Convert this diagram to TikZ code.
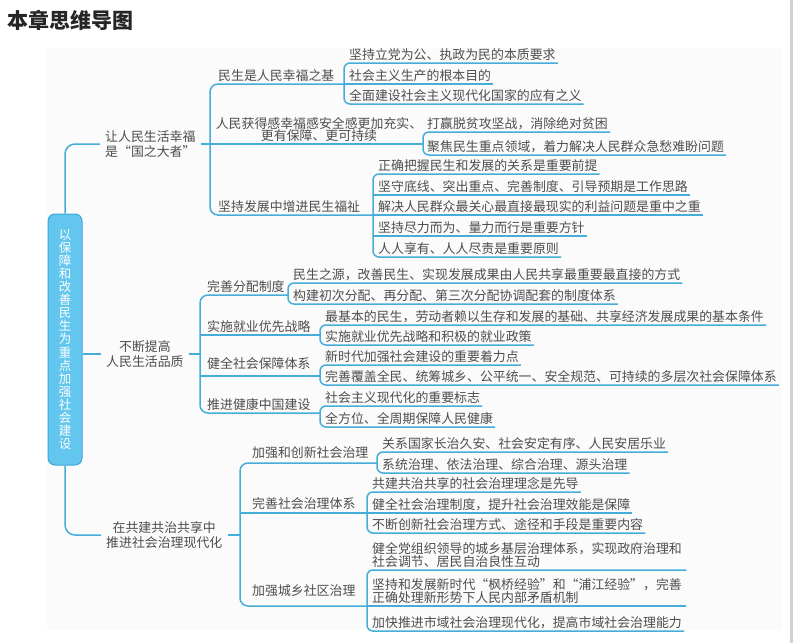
\documentclass[tikz,border=0pt]{standalone}
\usepackage{fontspec}
\setmainfont{Noto Sans CJK SC}
\definecolor{lc}{HTML}{45ADD9}
\definecolor{rootfill}{HTML}{62C6EF}
\definecolor{rootdraw}{HTML}{3DA7D7}
\definecolor{tc}{HTML}{4D4D4D}
\definecolor{titlec}{HTML}{262626}
\definecolor{panel}{HTML}{FBFBFB}
\definecolor{edgec}{HTML}{D2D2D2}
\newcommand{\lqm}{\makebox[1em][r]{“}}
\newcommand{\rqm}{\makebox[1em][l]{”}}
\newcommand{\fsz}{\fontsize{12.9}{13.6}\selectfont}
\begin{document}
\begin{tikzpicture}[x=1pt,y=-1pt,
  ln/.style={draw=lc, line width=1.5pt, rounded corners=6pt},
  leaf/.style={anchor=south west, inner xsep=2pt, inner ysep=1pt, text height=10pt, text depth=2pt, font=\fsz, text=tc},
  leaftwo/.style={anchor=south west, inner xsep=2pt, inner ysep=2pt, text width=312pt, align=left, font=\fontsize{12.9}{13.5}\selectfont, text=tc},
  lab/.style={anchor=south west, inner xsep=2pt, inner ysep=1pt, text height=10pt, text depth=2pt, font=\fsz, text=tc},
  lone/.style={anchor=west, inner xsep=5pt, inner ysep=2pt, font=\fontsize{12.9}{14.5}\selectfont, text=tc},
  root/.style={draw=rootdraw, fill=rootfill, line width=1pt, rounded corners=7pt, minimum width=34pt, minimum height=251pt, align=center, inner sep=0pt, text=white, font=\fontsize{12.5}{13.1}\selectfont}
]
\useasboundingbox (0,0) rectangle (793,643);
\fill[white] (0,0) rectangle (793,643);
\fill[panel] (47,48) rectangle (782,630);
\fill[edgec] (790,0) rectangle (793,643);

\node[anchor=west, inner sep=0pt, font=\fontsize{21}{21}\selectfont\bfseries, text=titlec] (title) at (7,20) {本章思维导图};

% root
\node[root] (root) at (65,339.5) {以\\保\\障\\和\\改\\善\\民\\生\\为\\重\\点\\加\\强\\社\\会\\建\\设};

% level 1
\node[lone, align=left] (b1) at (100,144) {让人民生活幸福\\是\lqm 国之大者\rqm};
\node[lone, align=center] (b2) at (101,354) {不断提高\\人民生活品质};
\node[lone, align=center] (b3) at (101,535) {在共建共治共享中\\推进社会治理现代化};

\draw[ln, rounded corners=10pt] (root.north) |- (b1.west);
\draw[ln] (root.east |- b2.west) -- (b2.west);
\draw[ln, rounded corners=10pt] (root.south) |- (b3.west);

% spine coordinates
\coordinate (sA) at (210,0);
\coordinate (sB) at (200,0);
\coordinate (sC) at (240,0);
\coordinate (xA1) at (344,0);
\coordinate (xA2) at (423,0);
\coordinate (xA3) at (373,0);
\coordinate (xB1) at (288,0);
\coordinate (xB2) at (320,0);
\coordinate (xC1) at (377,0);
\coordinate (xC2) at (367,0);

% ---------- branch A ----------
\node[lab] (l11) at (216,84) {民生是人民幸福之基};
\node[anchor=south, inner xsep=2pt, inner ysep=1pt, align=center, font=\fontsize{12.9}{12.6}\selectfont, text=tc] (l12) at (319,143) {人民获得感幸福感安全感更加充实、\\更有保障、更可持续};
\node[lab] (l13) at (216,215) {坚持发展中增进民生福祉};

\node[leaf] (a11) at (347,63) {坚持立党为公、执政为民的本质要求};
\node[leaf] (a12) at (347,84) {社会主义生产的根本目的};
\node[leaf] (a13) at (347,104) {全面建设社会主义现代化国家的应有之义};

\node[leaf] (a21) at (425,132) {打赢脱贫攻坚战，消除绝对贫困};
\node[leaf] (a22) at (425,155) {聚焦民生重点领域，着力解决人民群众急愁难盼问题};

\node[leaf] (a31) at (376,174) {正确把握民生和发展的关系是重要前提};
\node[leaf] (a32) at (376,195) {坚守底线、突出重点、完善制度、引导预期是工作思路};
\node[leaf] (a33) at (376,215) {解决人民群众最关心最直接最现实的利益问题是重中之重};
\node[leaf] (a34) at (376,236) {坚持尽力而为、量力而行是重要方针};
\node[leaf] (a35) at (376,257) {人人享有、人人尽责是重要原则};

\draw[ln, rounded corners=8pt] (xA1 |- a12.south) -- (sA |- a12.south) -- (sA |- a33.south) -- (xA3 |- a33.south);
\draw[ln] (b1.east) -- (xA2 |- b1.east);

\draw[ln] (a11.south east) -- (xA1 |- a11.south) -- (xA1 |- a13.south) -- (a13.south east);
\draw[ln] (xA1 |- a12.south) -- (a12.south east);

\draw[ln] (a21.south east) -- (xA2 |- a21.south) -- (xA2 |- a22.south) -- (a22.south east);

\draw[ln] (a31.south east) -- (xA3 |- a31.south) -- (xA3 |- a35.south) -- (a35.south east);
\draw[ln] (xA3 |- a32.south) -- (a32.south east);
\draw[ln] (xA3 |- a33.south) -- (a33.south east);
\draw[ln] (xA3 |- a34.south) -- (a34.south east);

% ---------- branch B ----------
\coordinate (jB1) at (288,295);
\coordinate (jB2) at (320,335);
\coordinate (jB3) at (320,376);
\coordinate (jB4) at (320,413);

\node[lab] (l21) at (205,295) {完善分配制度};
\node[lab] (l22) at (205,335) {实施就业优先战略};
\node[lab] (l23) at (205,372) {健全社会保障体系};
\node[lab] (l24) at (205,413) {推进健康中国建设};

\node[leaf] (p11) at (291,283) {民生之源，改善民生、实现发展成果由人民共享最重要最直接的方式};
\node[leaf] (p12) at (291,304) {构建初次分配、再分配、第三次分配协调配套的制度体系};
\node[leaf] (p21) at (323,325) {最基本的民生，劳动者赖以生存和发展的基础、共享经济发展成果的基本条件};
\node[leaf] (p22) at (323,345) {实施就业优先战略和积极的就业政策};
\node[leaf] (p31) at (323,365) {新时代加强社会建设的重要着力点};
\node[leaf] (p32) at (323,385) {完善覆盖全民、统筹城乡、公平统一、安全规范、可持续的多层次社会保障体系};
\node[leaf] (p41) at (323,406) {社会主义现代化的重要标志};
\node[leaf] (p42) at (323,427) {全方位、全周期保障人民健康};

\draw[ln] (b2.east) -- (sB |- b2.east);
\draw[ln, rounded corners=8pt] (jB1) -- (sB |- jB1) -- (sB |- jB4) -- (jB4);
\draw[ln] (sB |- jB2) -- (jB2);
\draw[ln] (sB |- jB3) -- (jB3);

\draw[ln] (p11.south east) -- (xB1 |- p11.south) -- (xB1 |- p12.south) -- (p12.south east);
\draw[ln] (p21.south east) -- (xB2 |- p21.south) -- (xB2 |- p22.south) -- (p22.south east);
\draw[ln] (p31.south east) -- (xB2 |- p31.south) -- (xB2 |- p32.south) -- (p32.south east);
\draw[ln] (p41.south east) -- (xB2 |- p41.south) -- (xB2 |- p42.south) -- (p42.south east);

% ---------- branch C ----------
\coordinate (jC1) at (377,463);
\coordinate (jC2) at (367,513);
\coordinate (jC3) at (367,606);

\node[lab] (l31) at (250,461) {加强和创新社会治理};
\node[lab] (l32) at (250,512) {完善社会治理体系};
\node[lab] (l33) at (250,599) {加强城乡社区治理};

\node[leaf] (c11) at (380,452) {关系国家长治久安、社会安定有序、人民安居乐业};
\node[leaf] (c12) at (380,473) {系统治理、依法治理、综合治理、源头治理};
\node[leaf] (c21) at (370,492) {共建共治共享的社会治理理念是先导};
\node[leaf] (c22) at (370,513) {健全社会治理制度，提升社会治理效能是保障};
\node[leaf] (c23) at (370,533) {不断创新社会治理方式、途径和手段是重要内容};
\node[leaftwo] (c31) at (370,570) {健全党组织领导的城乡基层治理体系，实现政府治理和\\社会调节、居民自治良性互动};
\node[leaftwo] (c32) at (370,606) {坚持和发展新时代\lqm 枫桥经验\rqm 和\lqm 浦江经验\rqm ，完善\\正确处理新形势下人民内部矛盾机制};
\node[leaf] (c33) at (370,631) {加快推进市域社会治理现代化，提高市域社会治理能力};

\draw[ln] (b3.east) -- (sC |- b3.east);
\draw[ln, rounded corners=8pt] (jC1) -- (sC |- jC1) -- (sC |- jC3) -- (jC3);
\draw[ln] (sC |- jC2) -- (jC2);

\draw[ln] (c11.south east) -- (xC1 |- c11.south) -- (xC1 |- c12.south) -- (c12.south east);
\draw[ln] (c21.south east) -- (xC2 |- c21.south) -- (xC2 |- c23.south) -- (c23.south east);
\draw[ln] (xC2 |- c22.south) -- (c22.south east);
\draw[ln] (c31.south east) -- (xC2 |- c31.south) -- (xC2 |- c33.south) -- (c33.south east);
\draw[ln] (xC2 |- c32.south) -- (c32.south east);
\end{tikzpicture}
\end{document}
